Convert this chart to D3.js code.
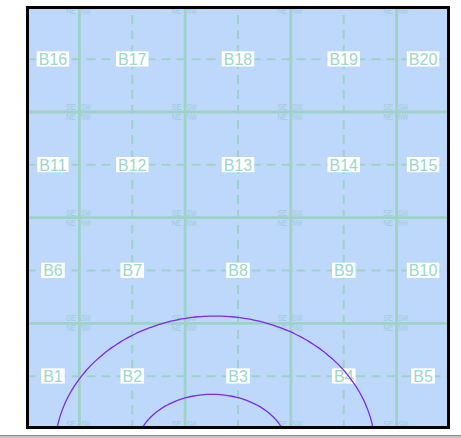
<!DOCTYPE html>
<html>
<head>
<meta charset="utf-8">
<script src="https://cdn.jsdelivr.net/npm/d3@7"></script>
<style>
  html, body { margin: 0; padding: 0; background: #ffffff; }
  svg { display: block; }
</style>
</head>
<body>
<svg id="chart" width="461" height="438"></svg>
<script>
// ---- data (grid units) ----
const columns = [1, 2, 3, 4, 5];
const rows = [1, 2, 3, 4];
const cellLabels = ["B1","B2","B3","B4","B5","B6","B7","B8","B9","B10",
                    "B11","B12","B13","B14","B15","B16","B17","B18","B19","B20"];
const boundaryCols = [1.5, 2.5, 3.5, 4.5];
const boundaryRows = [0.5, 1.5, 2.5, 3.5, 4.5];
const cornerLabels = ["SE", "SW", "NE", "NW"];
const ringCenterX = [2.783, 2.755];
const ringCenterY = [0.301, 0.301];
const ringRadiusX = [1.514, 0.719];
const ringRadiusY = [1.268, 0.527];

// ---- layout ----
const svg = d3.select("#chart");
const x = d3.scaleLinear().domain([1, 5]).range([26.5, 449.5]);
const y = d3.scaleLinear().domain([0.5, 4.5]).range([429, 6.3]);
const inner = { x0: 29, y0: 9, x1: 447, y1: 426 };

const bg = "#bed8fb", grid = "#9dd2c6", labelColor = "#9dd6cb", cornerColor = "#9fcbd6";

svg.append("defs").append("clipPath").attr("id", "clip")
  .append("rect").attr("x", inner.x0).attr("y", inner.y0)
  .attr("width", inner.x1 - inner.x0).attr("height", inner.y1 - inner.y0);

const g = svg.append("g").attr("clip-path", "url(#clip)");
g.append("rect").attr("x", inner.x0).attr("y", inner.y0)
  .attr("width", inner.x1 - inner.x0).attr("height", inner.y1 - inner.y0)
  .attr("fill", bg);

// dashed center lines
g.selectAll("line.dv").data(columns).join("line")
  .attr("x1", d => x(d)).attr("x2", d => x(d))
  .attr("y1", y(0.5)).attr("y2", y(4.5))
  .attr("stroke", grid).attr("stroke-width", 2).attr("stroke-dasharray", "9,6");
g.selectAll("line.dh").data(rows).join("line")
  .attr("y1", d => y(d)).attr("y2", d => y(d))
  .attr("x1", x(1)).attr("x2", x(5))
  .attr("stroke", grid).attr("stroke-width", 2).attr("stroke-dasharray", "9,6");

// solid boundaries
g.selectAll("line.sv").data(boundaryCols).join("line")
  .attr("x1", d => x(d)).attr("x2", d => x(d))
  .attr("y1", y(0.5)).attr("y2", y(4.5))
  .attr("stroke", grid).attr("stroke-width", 2.8);
g.selectAll("line.sh").data(boundaryRows).join("line")
  .attr("y1", d => y(d)).attr("y2", d => y(d))
  .attr("x1", x(1)).attr("x2", x(5))
  .attr("stroke", grid).attr("stroke-width", 2.8);

// corner labels at each boundary intersection (only those inside the frame)
const corners = [];
boundaryCols.forEach(c => boundaryRows.forEach(r => cornerLabels.forEach((t, i) => {
  const above = i < 2;
  if (above && r === 0.5 + rows.length) return;   // above the top edge
  if (!above && r === 0.5) return;                 // below the bottom edge
  corners.push({ c, r, t, i });
})));
g.selectAll("text.corner").data(corners).join("text")
  .attr("x", d => x(d.c) + (d.i % 2 === 0 ? -3.5 : 1.5))
  .attr("y", d => y(d.r) + (d.i < 2 ? -2 : 8))
  .attr("text-anchor", d => d.i % 2 === 0 ? "end" : "start")
  .attr("font-family", "Liberation Sans, Arial, sans-serif")
  .attr("font-size", 8.5)
  .attr("textLength", 10).attr("lengthAdjust", "spacingAndGlyphs")
  .attr("fill", cornerColor)
  .text(d => d.t);

// cell labels
const cells = cellLabels.map((t, i) => {
  const col = columns[i % 5], row = rows[Math.floor(i / 5)];
  const lo = Math.max(col - 0.5, 1), hi = Math.min(col + 0.5, 5);
  return { t, cx: (lo + hi) / 2, cy: row };
});
const lab = g.selectAll("g.lab").data(cells).join("g")
  .attr("transform", d => `translate(${x(d.cx)},${y(d.cy)})`);
const txt = lab.append("text")
  .attr("text-anchor", "middle").attr("y", 5.8)
  .attr("font-family", "Liberation Sans, Arial, sans-serif")
  .attr("font-size", 16).attr("fill", labelColor)
  .text(d => d.t);
txt.each(function () {
  const w = this.getComputedTextLength();
  d3.select(this.parentNode).insert("rect", "text")
    .attr("x", -w / 2 - 2).attr("y", -7.8)
    .attr("width", w + 4).attr("height", 15.2)
    .attr("fill", "#ffffff");
});

// rings
const angles = d3.range(0, 360, 2).map(a => a * Math.PI / 180);
ringCenterX.forEach((cx, k) => {
  const line = d3.line()
    .x(t => x(cx + ringRadiusX[k] * Math.cos(t)))
    .y(t => y(ringCenterY[k] + ringRadiusY[k] * Math.sin(t)))
    .curve(d3.curveCardinalClosed);
  g.append("path").datum(angles).attr("d", line)
    .attr("fill", "none").attr("stroke", "#7b2be4").attr("stroke-width", 1.3);
});

// border
svg.append("rect").attr("x", 27.5).attr("y", 7.5).attr("width", 421).attr("height", 420)
  .attr("fill", "none").attr("stroke", "#000").attr("stroke-width", 3);

// bottom bar
svg.append("rect").attr("x", 0).attr("y", 435).attr("width", 461).attr("height", 1.5).attr("fill", "#8c8c8c");
svg.append("rect").attr("x", 0).attr("y", 436.5).attr("width", 461).attr("height", 1.5).attr("fill", "#c4c4c4");
</script>
</body>
</html>
